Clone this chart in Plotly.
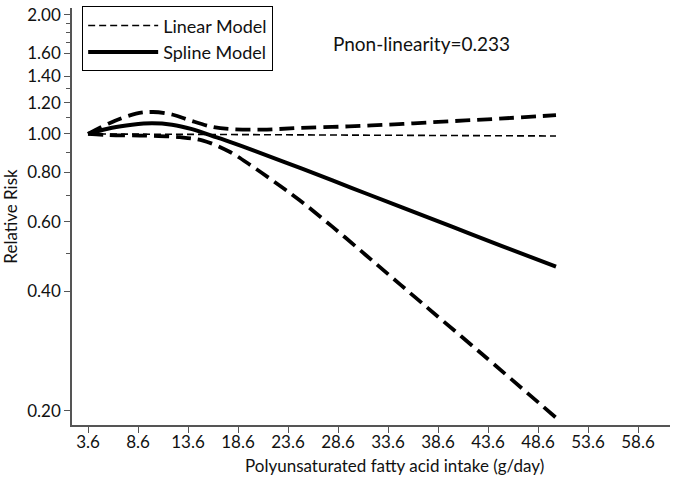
import plotly.graph_objects as go
import numpy as np

# ---- data ----
linear_x = [3.6, 15, 27, 39, 50.4]
linear_rr = [1.000, 0.997, 0.994, 0.991, 0.988]

spline_x = [3.6, 6.0, 8.0, 10.0, 12.0, 14.0, 16.0, 18.0, 20.0, 25.0, 30.0, 35.0,
            40.0, 45.0, 50.4]
spline_rr = [1.000, 1.037, 1.055, 1.064, 1.055, 1.028, 0.989, 0.951, 0.912,
             0.817, 0.730, 0.652, 0.583, 0.521, 0.462]

upper_x = [3.6, 5.8, 8.4, 10.1, 12.1, 13.8, 16.1, 17.7, 21.0, 24.7, 29.7,
           34.7, 39.7, 44.7, 50.4]
upper_rr = [1.000, 1.066, 1.125, 1.136, 1.118, 1.082, 1.041, 1.029, 1.025,
            1.035, 1.045, 1.059, 1.076, 1.093, 1.115]

lower_x = [3.6, 5.5, 9.4, 12.8, 15.1, 17.7, 20.0, 22.4, 24.7, 28.0, 31.4,
           34.0, 36.3, 43.0, 50.4]
lower_rr = [1.000, 0.994, 0.990, 0.981, 0.962, 0.903, 0.829, 0.752, 0.682,
            0.584, 0.494, 0.434, 0.387, 0.278, 0.192]

x_ticks = [3.6, 8.6, 13.6, 18.6, 23.6, 28.6, 33.6, 38.6, 43.6, 48.6, 53.6, 58.6]
x_ticklabels = ["3.6", "8.6", "13.6", "18.6", "23.6", "28.6", "33.6", "38.6",
                "43.6", "48.6", "53.6", "58.6"]
y_ticks = [0.20, 0.40, 0.60, 0.80, 1.00, 1.20, 1.40, 1.60, 2.00]
y_ticklabels = ["0.20", "0.40", "0.60", "0.80", "1.00", "1.20", "1.40", "1.60", "2.00"]
y_minor = [0.5, 0.7, 0.9, 1.1, 1.3, 1.7, 1.8, 1.9]

FONT = "Lato"
AXC = "#555555"
TXT = "#111111"

fig = go.Figure()
fig.add_trace(go.Scatter(x=upper_x, y=upper_rr, mode="lines", showlegend=False,
                         line=dict(color="black", width=3.8, dash="15px,7px",
                                   shape="spline", smoothing=1.0)))
fig.add_trace(go.Scatter(x=lower_x, y=lower_rr, mode="lines", showlegend=False,
                         line=dict(color="black", width=3.8, dash="15px,7px",
                                   shape="spline", smoothing=1.0)))
fig.add_trace(go.Scatter(x=linear_x, y=linear_rr, mode="lines", name="Linear Model",
                         legendgroup="a",
                         line=dict(color="black", width=1.6, dash="7px,4px")))
fig.add_trace(go.Scatter(x=spline_x, y=spline_rr, mode="lines", name="Spline Model",
                         legendgroup="b",
                         line=dict(color="black", width=4.0,
                                   shape="spline", smoothing=1.0)))

fig.update_layout(
    width=675, height=481,
    margin=dict(l=72, r=5, t=8, b=56, autoexpand=False),
    paper_bgcolor="white", plot_bgcolor="white",
    font=dict(family=FONT, size=17, color=TXT),
    showlegend=True,
    legend=dict(x=0.017, y=1.004, xanchor="left", yanchor="top",
                bordercolor="black", borderwidth=1, bgcolor="white",
                font=dict(family=FONT, size=18, color=TXT),
                itemwidth=70,
                traceorder="grouped", tracegroupgap=0),
    annotations=[
        dict(text="Pnon-linearity=0.233", xref="paper", yref="paper",
             x=0.585, y=0.916, xanchor="center", yanchor="middle",
             showarrow=False, font=dict(family=FONT, size=19, color=TXT)),
        dict(text="Polyunsaturated fatty acid intake (g/day)", xref="paper",
             yref="paper", x=0.54, y=-0.098, xanchor="center", yanchor="middle",
             showarrow=False, font=dict(family=FONT, size=17, color=TXT)),
    ],
)
fig.update_xaxes(range=[2.0, 61.8], tickmode="array", tickvals=x_ticks,
                 ticktext=x_ticklabels, ticks="outside", ticklen=6, tickwidth=1.2,
                 ticklabelstandoff=-5,
                 tickcolor=AXC, showline=True, linecolor=AXC, linewidth=1.5,
                 showgrid=False, zeroline=False, automargin=False)
fig.update_yaxes(type="log", range=[np.log10(0.184), np.log10(2.08)],
                 tickmode="array", tickvals=y_ticks, ticktext=y_ticklabels,
                 ticks="outside", ticklen=6, tickwidth=1.2, tickcolor=AXC,
                 minor=dict(tickmode="array", tickvals=y_minor, ticks="outside",
                            ticklen=4, tickwidth=1.2, tickcolor=AXC, showgrid=False),
                 showline=True, linecolor=AXC, linewidth=1.5,
                 showgrid=False, zeroline=False, automargin=False,
                 title=dict(text="Relative Risk", standoff=8,
                            font=dict(family=FONT, size=17)))

fig.write_html("out.html", config={"displayModeBar": False},
               post_script="document.body.style.margin='0px';"
                           "document.body.style.overflow='hidden';")
